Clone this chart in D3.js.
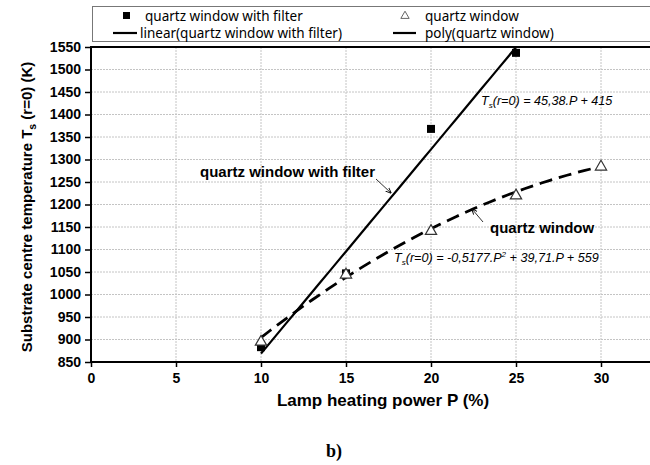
<!DOCTYPE html>
<html><head><meta charset="utf-8">
<script src="https://cdn.jsdelivr.net/npm/d3@7"></script>
<style>body{margin:0;background:#fff}svg{display:block}</style>
</head><body>
<svg id="c" width="650" height="465"></svg>
<script>
const filterP = [10, 15, 20, 25];
const filterT = [883, 1047, 1368, 1537];
const windowP = [10, 15, 20, 25, 30];
const windowT = [897, 1046, 1143, 1222, 1286];
const xTicks = [0, 5, 10, 15, 20, 25, 30];
const yTicks = [850, 900, 950, 1000, 1050, 1100, 1150, 1200, 1250, 1300, 1350, 1400, 1450, 1500, 1550];
const linFit = {a: 45.38, b: 415, from: 10, to: 25};
const polyFit = {a: -0.5177, b: 39.71, c: 559, from: 10, to: 30};
const legendLabels = ["quartz window with filter", "quartz window", "linear(quartz window with filter)", "poly(quartz window)"];

const svg = d3.select("#c");
const L = 91, T = 47, B = 362;
const x = d3.scaleLinear().domain([0, 35]).range([L, L + 85 * 7]);
const y = d3.scaleLinear().domain([850, 1550]).range([B, T]);
const sans = "'Liberation Sans', Arial, sans-serif";
const lsans = "'Noto Sans', 'Liberation Sans', sans-serif";

// gridlines
const g = svg.append("g");
g.selectAll(".gy").data(yTicks.slice(1)).join("line")
  .attr("x1", L).attr("x2", 650).attr("y1", d => y(d)).attr("y2", d => y(d))
  .attr("stroke", "#c4c4c4").attr("stroke-width", 1).attr("stroke-dasharray", "2,1");
g.selectAll(".gx").data(xTicks.slice(1)).join("line")
  .attr("x1", d => x(d)).attr("x2", d => x(d)).attr("y1", T).attr("y2", B)
  .attr("stroke", "#c4c4c4").attr("stroke-width", 1).attr("stroke-dasharray", "2,1");

// legend box
svg.append("rect").attr("x", 92.5).attr("y", 6.5).attr("width", 600).attr("height", 35)
  .attr("fill", "#fff").attr("stroke", "#777").attr("stroke-width", 1);
// plot top border
svg.append("line").attr("x1", L).attr("x2", 650).attr("y1", T).attr("y2", T)
  .attr("stroke", "#000").attr("stroke-width", 2);

// axes
const xAxis = d3.axisBottom(x).tickValues(xTicks).tickSize(5).tickPadding(6).tickFormat(d3.format("d"));
const yAxis = d3.axisLeft(y).tickValues(yTicks).tickSize(6).tickPadding(4).tickFormat(d3.format("d"));
const gx = svg.append("g").attr("transform", `translate(0,${B})`).call(xAxis);
const gy = svg.append("g").attr("transform", `translate(${L},0)`).call(yAxis);
[gx, gy].forEach(a => {
  a.select(".domain").remove();
  a.selectAll(".tick line").attr("stroke", "#000").attr("stroke-width", 1.5);
  a.selectAll("text").attr("font-family", sans).attr("font-weight", "bold")
    .attr("font-size", 14).attr("fill", "#000");
});
svg.append("line").attr("x1", L).attr("x2", 650).attr("y1", B).attr("y2", B)
  .attr("stroke", "#000").attr("stroke-width", 2);
svg.append("line").attr("x1", L).attr("x2", L).attr("y1", T - 1).attr("y2", B + 1)
  .attr("stroke", "#000").attr("stroke-width", 2);

// fits
const linPts = d3.range(linFit.from, linFit.to + 0.001, 0.5).map(p => [p, linFit.a * p + linFit.b]);
const polyPts = d3.range(polyFit.from, polyFit.to + 0.001, 0.5).map(p => [p, polyFit.a * p * p + polyFit.b * p + polyFit.c]);
const line = d3.line().x(d => x(d[0])).y(d => y(d[1]));
svg.append("path").attr("d", line(linPts)).attr("fill", "none").attr("stroke", "#000").attr("stroke-width", 2.2);
svg.append("path").attr("d", line(polyPts)).attr("fill", "none").attr("stroke", "#000")
  .attr("stroke-width", 2.8).attr("stroke-dasharray", "13,7");

// markers
svg.selectAll(".sq").data(filterP).join("rect")
  .attr("x", (d, i) => x(d) - 4).attr("y", (d, i) => y(filterT[i]) - 4)
  .attr("width", 8).attr("height", 8).attr("fill", "#000");
const tri = d3.symbol().type(d3.symbolTriangle).size(55);
svg.selectAll(".tr").data(windowP).join("path")
  .attr("d", tri).attr("transform", (d, i) => `translate(${x(d)},${y(windowT[i]) + 1})`)
  .attr("fill", "#fff").attr("stroke", "#333").attr("stroke-width", 1.2);

// legend entries
const lg = svg.append("g").attr("font-family", lsans).attr("font-size", 13.5).attr("fill", "#000");
lg.append("rect").attr("x", 123).attr("y", 12).attr("width", 7).attr("height", 7).attr("fill", "#000");
lg.append("text").attr("x", 145).attr("y", 20.5).text(legendLabels[0]);
lg.append("path").attr("d", d3.symbol().type(d3.symbolTriangle).size(30)).attr("transform", "translate(405,16)")
  .attr("fill", "#fff").attr("stroke", "#666").attr("stroke-width", 1);
lg.append("text").attr("x", 425).attr("y", 20.5).text(legendLabels[1]);
lg.append("line").attr("x1", 113).attr("x2", 137).attr("y1", 33).attr("y2", 33).attr("stroke", "#000").attr("stroke-width", 2.2);
lg.append("text").attr("x", 140).attr("y", 37.5).text(legendLabels[2]);
lg.append("line").attr("x1", 393).attr("x2", 416).attr("y1", 33).attr("y2", 33).attr("stroke", "#000").attr("stroke-width", 2.2);
lg.append("text").attr("x", 425).attr("y", 37.5).text(legendLabels[3]);

// annotations
const ann = svg.append("g").attr("font-family", sans).attr("fill", "#000");
ann.append("text").attr("x", 200).attr("y", 177).attr("font-weight", "bold").attr("font-size", 15).text("quartz window with filter");
ann.append("text").attr("x", 490).attr("y", 233).attr("font-weight", "bold").attr("font-size", 15).text("quartz window");
svg.append("defs").append("marker").attr("id", "ah").attr("viewBox", "0 0 10 10").attr("refX", 9).attr("refY", 5)
  .attr("markerWidth", 6).attr("markerHeight", 6).attr("orient", "auto")
  .append("path").attr("d", "M0,1 L10,5 L0,9").attr("fill", "none").attr("stroke", "#000").attr("stroke-width", 1.5);
svg.append("line").attr("x1", 376).attr("y1", 179).attr("x2", 391).attr("y2", 193)
  .attr("stroke", "#333").attr("stroke-width", 1).attr("marker-end", "url(#ah)");
svg.append("line").attr("x1", 483).attr("y1", 222).attr("x2", 472).attr("y2", 209)
  .attr("stroke", "#333").attr("stroke-width", 1).attr("marker-end", "url(#ah)");

const eq1 = ann.append("text").attr("x", 481).attr("y", 105).attr("font-style", "italic").attr("font-size", 12.6);
eq1.append("tspan").text("T");
eq1.append("tspan").attr("font-size", 8).attr("dy", 3).text("s");
eq1.append("tspan").attr("dy", -3).text("(r=0) = 45,38.P + 415");
const eq2 = ann.append("text").attr("x", 394).attr("y", 262).attr("font-style", "italic").attr("font-size", 12.6);
eq2.append("tspan").text("T");
eq2.append("tspan").attr("font-size", 8).attr("dy", 3).text("s");
eq2.append("tspan").attr("dy", -3).text("(r=0) = -0,5177.P");
eq2.append("tspan").attr("font-size", 8).attr("dy", -5).text("2");
eq2.append("tspan").attr("dy", 5).text(" + 39,71.P + 559");

// axis titles
svg.append("text").attr("x", 383).attr("y", 406).attr("text-anchor", "middle")
  .attr("font-family", sans).attr("font-weight", "bold").attr("font-size", 17).text("Lamp heating power P (%)");
const yt = svg.append("text").attr("transform", "translate(32,207) rotate(-90)").attr("text-anchor", "middle")
  .attr("font-family", sans).attr("font-weight", "bold").attr("font-size", 15);
yt.append("tspan").text("Substrate centre temperature T");
yt.append("tspan").attr("font-size", 10.5).attr("dy", 4).text("s");
yt.append("tspan").attr("dy", -4).text(" (r=0) (K)");

svg.append("text").attr("x", 334).attr("y", 457).attr("text-anchor", "middle")
  .attr("font-family", "'Liberation Serif', 'Times New Roman', serif").attr("font-weight", "bold").attr("font-size", 18).text("b)");
</script>
</body></html>
